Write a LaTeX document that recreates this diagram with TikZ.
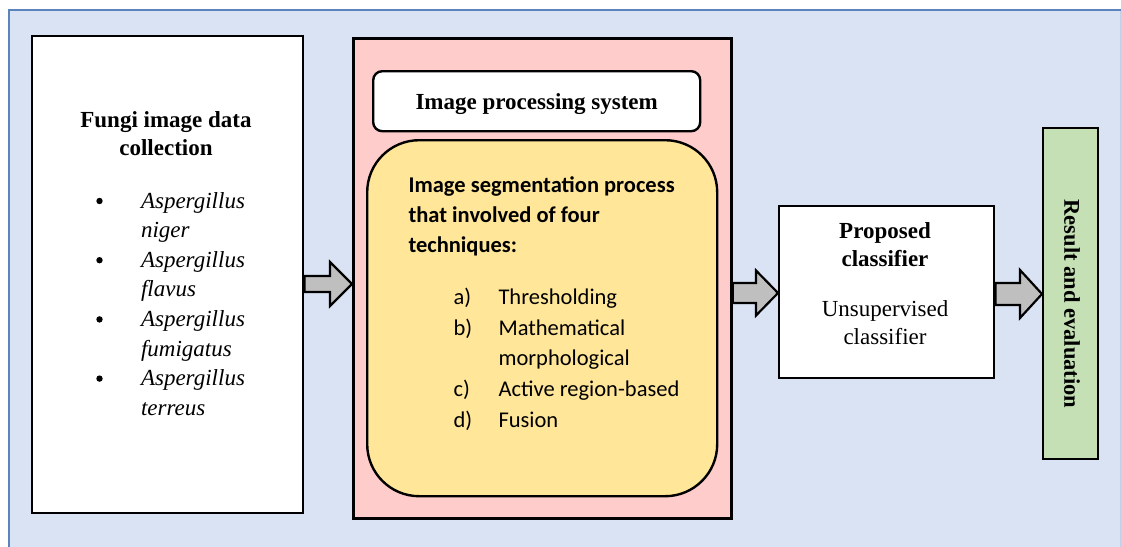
\documentclass[tikz,border=0pt]{standalone}
\usepackage{fontspec}
\setmainfont{Liberation Serif}
\newfontfamily\calfont{Carlito}
\usetikzlibrary{calc}
\definecolor{bgblue}{HTML}{DAE3F3}
\definecolor{bdblue}{HTML}{5B84BD}
\definecolor{pinkfill}{HTML}{FFCCCC}
\definecolor{yellowfill}{HTML}{FFE699}
\definecolor{greenfill}{HTML}{C5E0B4}
\definecolor{arrowgray}{HTML}{BFBFBF}
\tikzset{
  box/.style={draw=black, line width=2.4pt, inner sep=0pt, anchor=north west},
  tbold/.style={font=\bfseries\fontsize{23}{27}\selectfont, anchor=base},
  treg/.style={font=\fontsize{23}{27}\selectfont, anchor=base},
  tital/.style={font=\itshape\fontsize{23}{27}\selectfont, anchor=base west},
  cbold/.style={font=\calfont\bfseries\fontsize{22.5}{27}\selectfont, anchor=base west},
  creg/.style={font=\calfont\fontsize{22.5}{27}\selectfont, anchor=base west},
  blk/.style={draw=black, line width=2.2pt, fill=arrowgray, line join=miter},
}
\newcommand{\blockarrow}[5]{%
  \draw[blk] ($(#1)+(0,-#3)$) -- ($(#2)+(-#5,-#3)$) -- ($(#2)+(-#5,-#4)$) -- (#2)
    -- ($(#2)+(-#5,#4)$) -- ($(#2)+(-#5,#3)$) -- ($(#1)+(0,#3)$) -- cycle;}
\begin{document}
\begin{tikzpicture}[x=1pt,y=-1pt]
\useasboundingbox (0,0) rectangle (1121,546);
\fill[white] (0,0) rectangle (1121,546);
% outer background panel
\fill[bgblue] (9,10) rectangle (1125,550);
\draw[bdblue, line width=2.5pt] (9,552) -- (9,10) -- (1122,10);
\draw[bgblue!80!bdblue, line width=0.8pt] (1120.6,11) -- (1120.6,552);

% boxes
\node[box, fill=white, minimum width=271pt, minimum height=477pt] (fungi) at (31,35) {};
\node[box, fill=pinkfill, line width=2.8pt, minimum width=378pt, minimum height=480pt] (pink) at (352,37) {};
\node[box, fill=white, rounded corners=9pt, minimum width=327pt, minimum height=60pt] (ips) at (372,70) {};
\node[box, fill=yellowfill, rounded corners=52pt, minimum width=350pt, minimum height=356pt] (seg) at (366,139) {};
\node[box, fill=white, minimum width=215pt, minimum height=172pt] (cls) at (778,205) {};
\node[box, fill=greenfill, minimum width=55pt, minimum height=331pt] (res) at (1042,127) {};

% fungi text
\node[tbold] (ft1) at (166,127) {Fungi image data};
\node[tbold] (ft2) at (166,155) {collection};
\foreach \i/\t in {0/Aspergillus,1/niger,2/Aspergillus,3/flavus,4/Aspergillus,5/fumigatus,6/Aspergillus,7/terreus}{
  \node[tital] (sp\i) at (137.5,{208+29.6*\i}) {\t};
}
\foreach \i in {0,1,2,3}{
  \fill (99.5,{201+59.2*\i}) circle (3.2pt);
}

% image processing system
\node[tbold] (ipst) at ($(ips.center)+(0,8)$) {Image processing system};

% segmentation text
\node[cbold] (s1) at (405,192) {Image segmentation process};
\node[cbold] (s2) at (405,222) {that involved of four};
\node[cbold] (s3) at (405,252) {techniques:};
\node[creg] (la) at (450,304) {a)};
\node[creg] (ia) at (495,304) {Thresholding};
\node[creg] (lb) at (450,335) {b)};
\node[creg] (ib) at (495,335) {Mathematical};
\node[creg] (ib2) at (495,365.5) {morphological};
\node[creg] (lc) at (450,396.5) {c)};
\node[creg] (ic) at (495,396.5) {Active region-based};
\node[creg] (ld) at (450,427) {d)};
\node[creg] (id) at (495,427) {Fusion};

% classifier text
\node[tbold] (c1) at (885,238.5) {Proposed};
\node[tbold] (c2) at (885,266.5) {classifier};
\node[treg] (c3) at (885,316.5) {Unsupervised};
\node[treg] (c4) at (885,344) {classifier};

% result text
\node[font=\bfseries\fontsize{22.5}{27}\selectfont, rotate=-90] (rt) at (1072,304) {Result and evaluation};

% block arrows
\coordinate (a1s) at (fungi.east |- 0,284);
\coordinate (a1t) at (pink.west |- 0,284);
\coordinate (a2s) at (pink.east |- 0,293);
\coordinate (a2t) at (cls.west |- 0,293);
\coordinate (a3s) at (cls.east |- 0,294);
\coordinate (a3t) at (res.west |- 0,294);
\blockarrow{a1s}{a1t}{8}{22}{22}
\blockarrow{a2s}{a2t}{10}{22.5}{22}
\blockarrow{a3s}{a3t}{11}{24}{22}
\end{tikzpicture}
\end{document}
